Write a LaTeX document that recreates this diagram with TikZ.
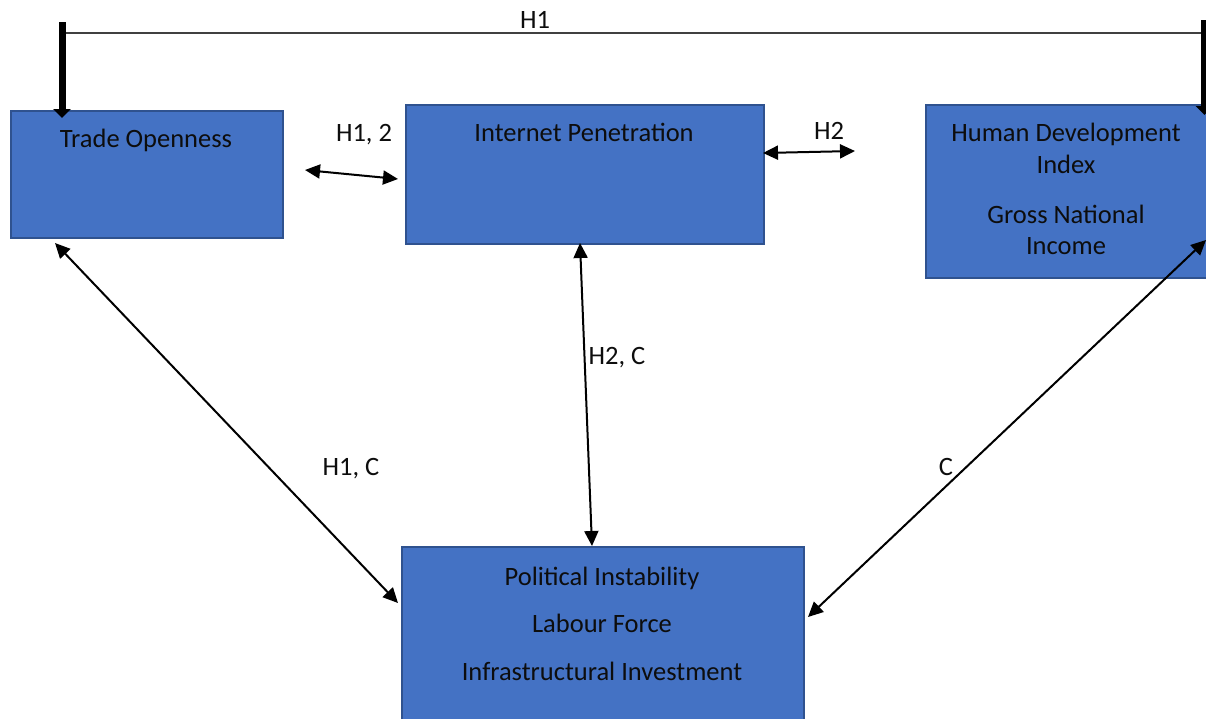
\documentclass[tikz,border=0pt]{standalone}
\usepackage{fontspec}
\setmainfont{Carlito}
\usetikzlibrary{arrows.meta,calc,positioning}
\definecolor{frmFill}{HTML}{4472C4}
\definecolor{frmEdge}{HTML}{2F528F}
\definecolor{frmInk}{HTML}{0D0D0D}
\definecolor{frmRule}{HTML}{404040}

\begin{document}
\begin{tikzpicture}[x=1pt,y=-1pt,>={Triangle[length=15pt,width=14pt]},line join=miter]
\path[use as bounding box,fill=white] (0,0) rectangle (1206,718);
\clip (0,0) rectangle (1206,718);
\tikzset{frame/.style={draw=frmEdge,fill=frmFill,line width=1.5pt,inner sep=0pt,anchor=north west},txt/.style={text=frmInk,font=\fontsize{26.5}{32}\selectfont,anchor=base,inner sep=0pt},link/.style={draw=black,line width=2pt,<->},bracket/.style={draw=black,line width=7pt,-{Triangle[length=9pt,width=17pt]}}}
% boxes
\node[frame,minimum width=272pt,minimum height=127pt] (trade) at (10,110) {};
\node[frame,minimum width=358pt,minimum height=139pt] (inet) at (405,104) {};
\node[frame,minimum width=290pt,minimum height=173pt] (hdi) at (925,104) {};
\node[frame,minimum width=402pt,minimum height=180pt] (polit) at (401,546) {};
% box texts
\node[txt] (tradeT) at (146,147) {Trade Openness};
\node[txt] (inetT) at (584,141) {Internet Penetration};
\node[txt] (hdiA) at (1066,141) {Human Development};
\node[txt] (hdiB) at (1066,173) {Index};
\node[txt] (gniA) at (1066,223) {Gross National};
\node[txt] (gniB) at (1066,254) {Income};
\node[txt] (politA) at (602,585) {Political Instability};
\node[txt] (politB) at (602,632) {Labour Force};
\node[txt] (politC) at (602,680) {Infrastructural Investment};
% top bracket
\coordinate (brL) at (62,33); \coordinate (brR) at (1204.5,33);
\draw[frmRule,line width=1.2pt] (66,33) -- (1201,33);
\draw[bracket] (62,22) -- (62,118);
\draw[bracket] (1204.5,20) -- (1204.5,115);
\node[txt] (h1top) at (535,28) {H1};
% connector ends
\coordinate (toR) at (305,170); \coordinate (ipL) at (398,179);
\coordinate (ipR) at (763,153); \coordinate (hdL) at (855,151);
\coordinate (ipB) at (580,243); \coordinate (poT) at (592,546);
\coordinate (toB) at (55,243); \coordinate (poL) at (398,603);
\coordinate (hdB) at (1206,240); \coordinate (poR) at (808,617);
\draw[link] (toR) -- (ipL);
\draw[link] (ipR) -- (hdL);
\draw[link] (ipB) -- (poT);
\draw[link] (toB) -- (poL);
\draw[link] (hdB) -- (poR);
% connector labels
\node[txt] (lblA) at (364,141) {H1, 2};
\node[txt] (lblB) at (829,139) {H2};
\node[txt] (lblC) at (617,364) {H2, C};
\node[txt] (lblD) at (351,475) {H1, C};
\node[txt] (lblE) at (946,475) {C};
\end{tikzpicture}
\end{document}
